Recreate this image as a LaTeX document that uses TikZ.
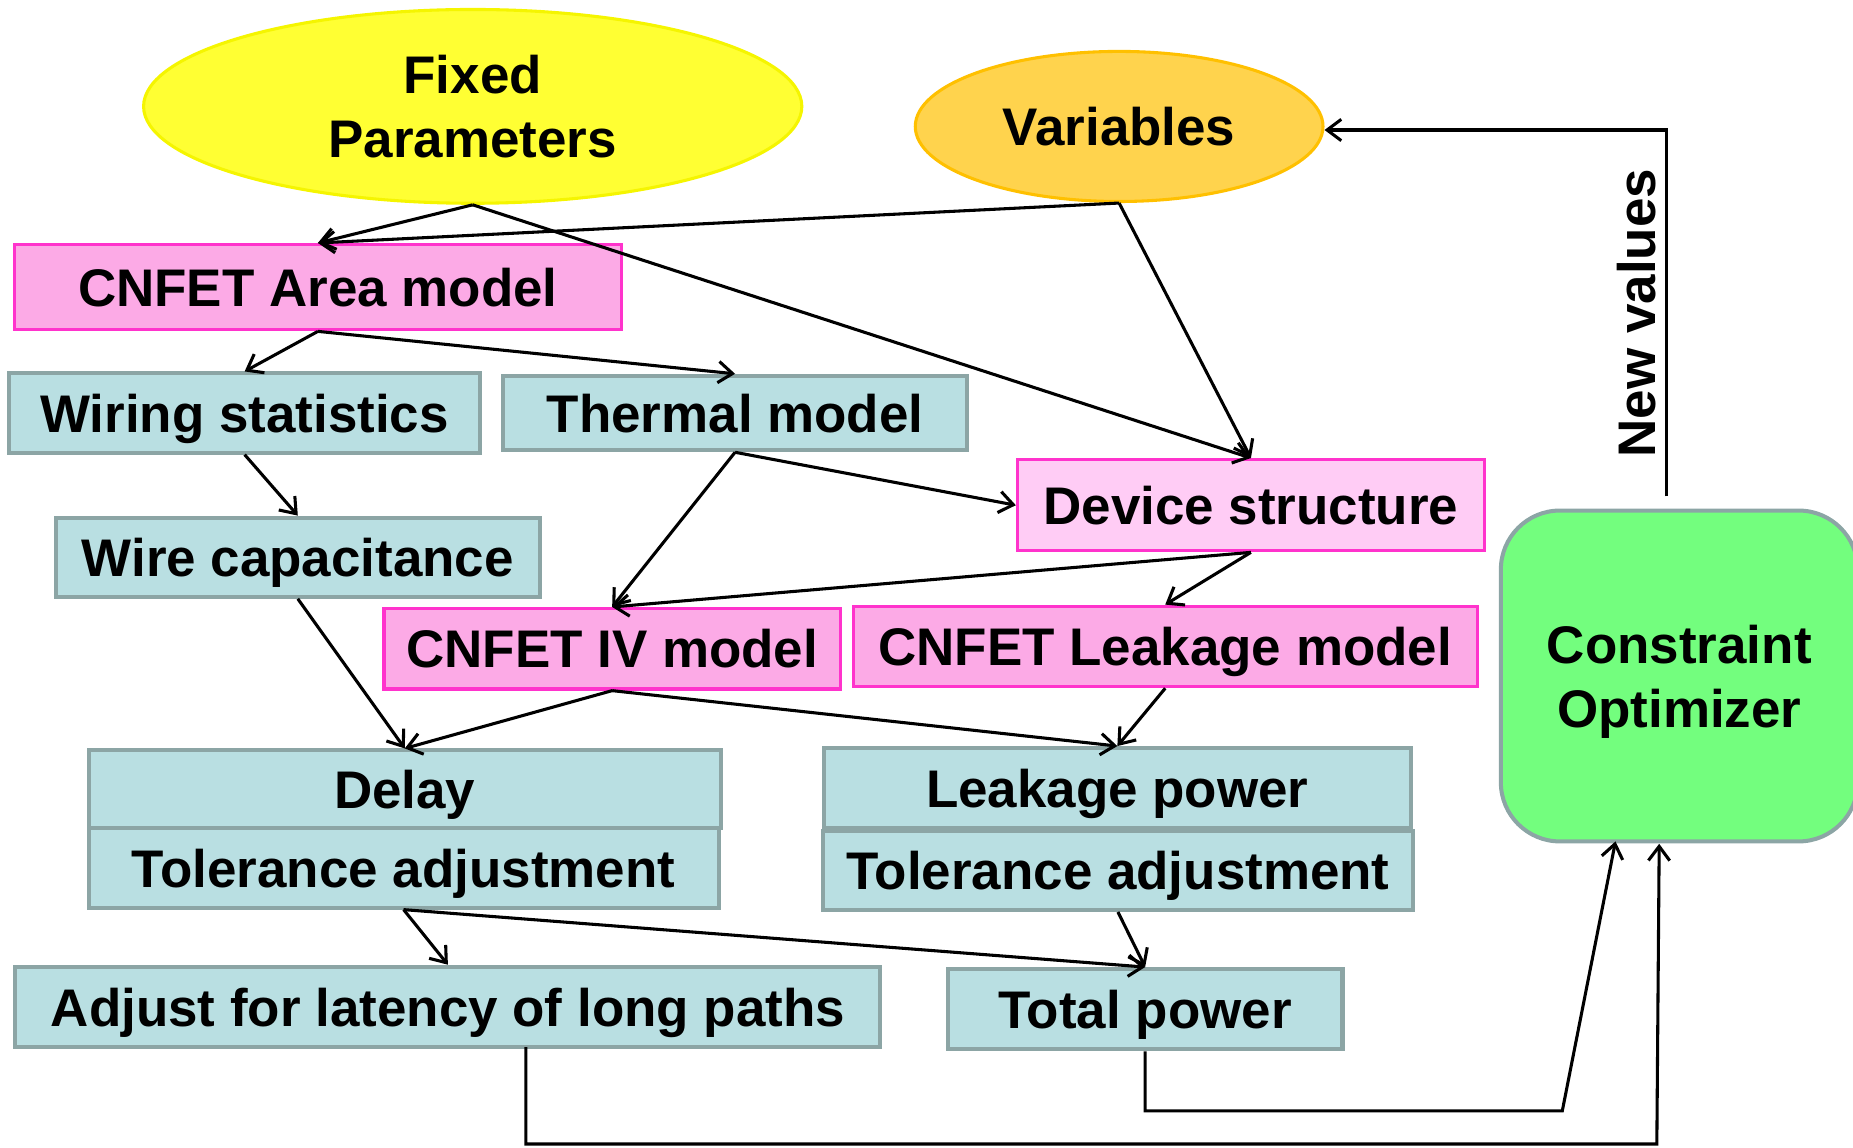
\documentclass[tikz,border=0pt]{standalone}
\usepackage{fontspec}
\setmainfont{Liberation Sans}
\usetikzlibrary{shapes.geometric,arrows.meta,calc}
\definecolor{fixfill}{HTML}{FFFF33}
\definecolor{fixdraw}{HTML}{F5F500}
\definecolor{varfill}{HTML}{FFD34D}
\definecolor{vardraw}{HTML}{FFC000}
\definecolor{pinkfill}{HTML}{FCAAE6}
\definecolor{pinklight}{HTML}{FFCCF5}
\definecolor{pinkdraw}{HTML}{FF33CC}
\definecolor{tealfill}{HTML}{B9DFE2}
\definecolor{tealdraw}{HTML}{8CA5A5}
\definecolor{greenfill}{HTML}{73FE7E}
\begin{document}
\begin{tikzpicture}[x=0.5pt,y=-0.5pt,
  every node/.style={font=\fontsize{22.4}{27}\selectfont\bfseries, inner sep=0pt, align=center},
  pinkbox/.style={draw=pinkdraw, fill=pinkfill, line width=1.4pt, rectangle, text depth=0pt},
  tealbox/.style={draw=tealdraw, fill=tealfill, line width=1.7pt, rectangle, text depth=0pt},
  arr/.style={-{Straight Barb[length=6pt,width=9pt]}, line width=1.3pt},
  plainline/.style={line width=1.3pt}]
\useasboundingbox (0,0) rectangle (1568,971);
% ellipses
\node[ellipse, draw=fixdraw, fill=fixfill, line width=1.3pt, minimum width=278.5pt, minimum height=82pt] (fix) at (400,90) {Fixed\\Parameters};
\node[ellipse, draw=vardraw, fill=varfill, line width=1.3pt, minimum width=172.5pt, minimum height=63.5pt] (var) at (947,107) {Variables};
% boxes
\node[pinkbox, minimum width=257pt, minimum height=36pt] (area) at (269,243) {CNFET Area model};
\node[tealbox, minimum width=199pt, minimum height=33.5pt] (wire) at (207,349.5) {Wiring statistics};
\node[tealbox, minimum width=196pt, minimum height=31.5pt] (therm) at (622,349.5) {Thermal model};
\node[pinkbox, fill=pinklight, minimum width=197.5pt, minimum height=38.5pt] (dev) at (1058.5,427.5) {Device structure};
\node[tealbox, minimum width=205pt, minimum height=33.5pt] (wcap) at (252,471.5) {Wire capacitance};
\node[pinkbox, minimum width=193pt, minimum height=34pt] (iv) at (518,549) {CNFET IV model};
\node[pinkbox, minimum width=264pt, minimum height=34pt] (lmod) at (986,547) {CNFET Leakage model};
\node[tealbox, minimum width=267.5pt, minimum height=33pt] (delay) at (342.5,668) {Delay};
\node[tealbox, minimum width=266.5pt, minimum height=33.5pt] (toll) at (341.5,734.5) {Tolerance adjustment};
\node[tealbox, minimum width=248.5pt, minimum height=34pt] (leakp) at (945.5,667) {Leakage power};
\node[tealbox, minimum width=250pt, minimum height=33.5pt] (tolr) at (946,736.5) {Tolerance adjustment};
\node[tealbox, minimum width=366pt, minimum height=34pt] (adj) at (379,852) {Adjust for latency of long paths};
\node[tealbox, minimum width=167pt, minimum height=34pt] (tot) at (969,854) {Total power};
\node[draw=tealdraw, fill=greenfill, line width=1.7pt, rounded corners=25pt, minimum width=151pt, minimum height=140pt, text depth=0pt] (con) at (1421,572) {Constraint\\Optimizer};
\node[rotate=90] (nvlabel) at (1385,265) {New values};
% coordinates
\coordinate (tp1) at (1322,940);
\coordinate (ci1) at (1367,712);
\coordinate (ad0) at (445,886);
\coordinate (tp2) at (1402,968);
\coordinate (ci2) at (1404,714);
\coordinate (nv1) at (1410,420);
\coordinate (nv2) at (1410,110);
% arrows
\draw[arr] (fix.south) -- (area.north);
\draw[arr] (fix.south) -- (dev.north);
\draw[arr] (var.south) -- (area.north);
\draw[arr] (var.south) -- (dev.north);
\draw[arr] (area.south) -- (wire.north);
\draw[arr] (area.south) -- (therm.north);
\draw[arr] (wire.south) -- (wcap.north);
\draw[arr] (therm.south) -- (dev.west);
\draw[arr] (therm.south) -- (iv.north);
\draw[arr] (dev.south) -- (iv.north);
\draw[arr] (dev.south) -- (lmod.north);
\draw[arr] (wcap.south) -- (delay.north);
\draw[arr] (iv.south) -- (delay.north);
\draw[arr] (iv.south) -- (leakp.north);
\draw[arr] (lmod.south) -- (leakp.north);
\draw[arr] (toll.south) -- (adj.north);
\draw[arr] (toll.south) -- (tot.north);
\draw[arr] (tolr.south) -- (tot.north);
\draw[arr] (tot.south) |- (tp1) -- (ci1);
\draw[arr] (ad0) |- (tp2) -- (ci2);
\draw[arr] (nv1) -- (nv2) -- (nv2 -| var.east);
\end{tikzpicture}
\end{document}
